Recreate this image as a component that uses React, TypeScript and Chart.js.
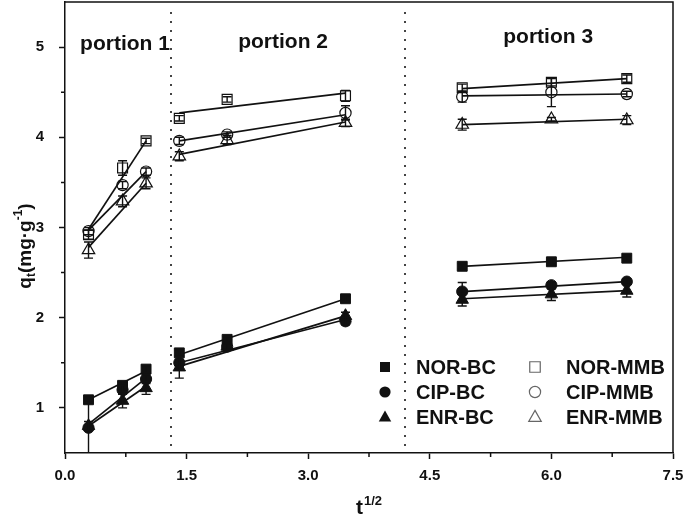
import React, { useEffect, useRef } from 'react';
import { Chart, registerables } from 'chart.js';

Chart.register(...registerables);

// x positions: square root of sampling time
const sqrtT = [0.29, 0.71, 1.0, 1.41, 2.0, 3.46, 4.9, 6.0, 6.93];

// adsorbed amounts q_t (mg/g)
const norBC = [1.09, 1.25, 1.43, 1.61, 1.76, 2.21, 2.57, 2.62, 2.66];
const cipBC = [0.78, 1.2, 1.32, 1.5, 1.68, 1.96, 2.29, 2.36, 2.4];
const enrBC = [0.8, 1.08, 1.22, 1.45, 1.68, 2.02, 2.2, 2.26, 2.3];
const norMMB = [2.92, 3.66, 3.96, 4.21, 4.42, 4.46, 4.55, 4.61, 4.65];
const cipMMB = [2.96, 3.47, 3.62, 3.96, 4.03, 4.27, 4.45, 4.5, 4.48];
const enrMMB = [2.75, 3.29, 3.49, 3.79, 3.97, 4.16, 4.14, 4.2, 4.19];

// error bars (+/-)
const norBCErr = [0.03, 0.04, 0.04, 0.03, 0.03, 0.03, 0.03, 0.03, 0.03];
const cipBCErr = [0.3, 0.05, 0.05, 0.04, 0.03, 0.04, 0.1, 0.04, 0.03];
const enrBCErr = [0.05, 0.08, 0.07, 0.12, 0.04, 0.04, 0.07, 0.07, 0.07];
const norMMBErr = [0.05, 0.08, 0.03, 0.03, 0.03, 0.06, 0.04, 0.04, 0.04];
const cipMMBErr = [0.04, 0.04, 0.04, 0.04, 0.03, 0.08, 0.06, 0.16, 0.03];
const enrMMBErr = [0.09, 0.06, 0.06, 0.05, 0.05, 0.04, 0.06, 0.02, 0.05];

// intra-particle diffusion fit lines: [start, end] per portion
const norBCFit = [[1.09, 1.41], [1.59, 2.21], [2.57, 2.67]];
const cipBCFit = [[0.82, 1.33], [1.5, 1.98], [2.29, 2.4]];
const enrBCFit = [[0.8, 1.24], [1.46, 2.02], [2.21, 2.3]];
const norMMBFit = [[2.98, 3.96], [4.27, 4.49], [4.54, 4.65]];
const cipMMBFit = [[2.97, 3.62], [3.96, 4.25], [4.46, 4.48]];
const enrMMBFit = [[2.78, 3.49], [3.81, 4.17], [4.14, 4.2]];

// index ranges of each portion
const portionRanges = [[0, 2], [3, 5], [6, 8]];
const portionLabels = ['portion 1', 'portion 2', 'portion 3'];
const portionLabelX = [0.74, 2.69, 5.96];
const portionLabelY = [4.97, 4.99, 5.04];
const dividers = [1.31, 4.2];

const xTicks = [0, 1.5, 3.0, 4.5, 6.0, 7.5];
const xMinor = [0.75, 2.25, 3.75, 5.25, 6.75];
const yTicks = [1, 2, 3, 4, 5];
const yMinor = [1.5, 2.5, 3.5, 4.5];

type Shape = 'rect' | 'circle' | 'triangle';
const series: { name: string; values: number[]; errs: number[]; fit: number[][]; shape: Shape; filled: boolean }[] = [
  { name: 'NOR-BC', values: norBC, errs: norBCErr, fit: norBCFit, shape: 'rect', filled: true },
  { name: 'CIP-BC', values: cipBC, errs: cipBCErr, fit: cipBCFit, shape: 'circle', filled: true },
  { name: 'ENR-BC', values: enrBC, errs: enrBCErr, fit: enrBCFit, shape: 'triangle', filled: true },
  { name: 'NOR-MMB', values: norMMB, errs: norMMBErr, fit: norMMBFit, shape: 'rect', filled: false },
  { name: 'CIP-MMB', values: cipMMB, errs: cipMMBErr, fit: cipMMBFit, shape: 'circle', filled: false },
  { name: 'ENR-MMB', values: enrMMB, errs: enrMMBErr, fit: enrMMBFit, shape: 'triangle', filled: false },
];

const FONT = '"Liberation Sans", Arial, sans-serif';
const INK = '#111';

function radiusFor(shape: Shape) {
  return shape === 'rect' ? 7 : shape === 'circle' ? 5.6 : 7.2;
}

function drawShape(ctx: CanvasRenderingContext2D, shape: Shape, cx: number, cy: number, filled: boolean) {
  ctx.beginPath();
  if (shape === 'rect') {
    const s = filled ? 10 : 10.5;
    ctx.rect(cx - s / 2, cy - s / 2, s, s);
  } else if (shape === 'circle') {
    ctx.arc(cx, cy, 5.6, 0, Math.PI * 2);
  } else {
    const h = 11;
    const w = 12.5;
    ctx.moveTo(cx, cy - h * 0.6);
    ctx.lineTo(cx + w / 2, cy + h * 0.4);
    ctx.lineTo(cx - w / 2, cy + h * 0.4);
    ctx.closePath();
  }
  if (filled) {
    ctx.fillStyle = INK;
    ctx.fill();
  } else {
    ctx.strokeStyle = '#666';
    ctx.lineWidth = 1.2;
    ctx.stroke();
  }
}

const extrasPlugin = {
  id: 'extras',
  beforeDatasetsDraw(chart: any) {
    const { ctx, chartArea, scales } = chart;
    const x = scales.x;
    ctx.save();
    ctx.strokeStyle = '#444';
    ctx.lineWidth = 2;
    ctx.setLineDash([2, 7]);
    dividers.forEach((d) => {
      const px = Math.round(x.getPixelForValue(d));
      ctx.beginPath();
      ctx.moveTo(px, chartArea.top + 10);
      ctx.lineTo(px, chartArea.bottom - 4);
      ctx.stroke();
    });
    ctx.restore();
  },
  afterDatasetsDraw(chart: any) {
    const { ctx, chartArea, scales } = chart;
    const x = scales.x;
    const y = scales.y;
    ctx.save();
    ctx.beginPath();
    ctx.rect(chartArea.left, chartArea.top, chartArea.right - chartArea.left, chartArea.bottom - chartArea.top);
    ctx.clip();
    ctx.strokeStyle = INK;
    ctx.lineWidth = 1.4;
    series.forEach((s) => {
      s.values.forEach((v, j) => {
        const px = x.getPixelForValue(sqrtT[j]);
        const top = y.getPixelForValue(v + s.errs[j]);
        const bot = y.getPixelForValue(v - s.errs[j]);
        ctx.beginPath();
        ctx.moveTo(px, top);
        ctx.lineTo(px, bot);
        ctx.moveTo(px - 4.5, top);
        ctx.lineTo(px + 4.5, top);
        ctx.moveTo(px - 4.5, bot);
        ctx.lineTo(px + 4.5, bot);
        ctx.stroke();
      });
    });
    ctx.restore();
  },
  afterDraw(chart: any) {
    const { ctx, chartArea, scales } = chart;
    const x = scales.x;
    const y = scales.y;
    const { left, right, top, bottom } = chartArea;
    ctx.save();
    // top and right frame
    ctx.strokeStyle = INK;
    ctx.lineWidth = 1.5;
    ctx.beginPath();
    ctx.moveTo(left, top);
    ctx.lineTo(right, top);
    ctx.lineTo(right, bottom);
    ctx.stroke();
    // minor ticks
    ctx.lineWidth = 1.5;
    ctx.beginPath();
    xMinor.forEach((v) => {
      const px = x.getPixelForValue(v);
      ctx.moveTo(px, bottom);
      ctx.lineTo(px, bottom + 4);
    });
    yMinor.forEach((v) => {
      const py = y.getPixelForValue(v);
      ctx.moveTo(left, py);
      ctx.lineTo(left - 4, py);
    });
    ctx.stroke();

    // portion labels
    ctx.fillStyle = INK;
    ctx.font = `bold 21px ${FONT}`;
    ctx.textAlign = 'center';
    ctx.textBaseline = 'alphabetic';
    portionLabels.forEach((t, i) => {
      ctx.fillText(t, x.getPixelForValue(portionLabelX[i]), y.getPixelForValue(portionLabelY[i]));
    });

    // legend
    const colMarker = [right - 288, right - 138];
    const colText = [right - 257, right - 107];
    const rows = [bottom - 86, bottom - 61, bottom - 36];
    ctx.font = `bold 20px ${FONT}`;
    ctx.textAlign = 'left';
    ctx.textBaseline = 'middle';
    series.forEach((s, i) => {
      const c = i < 3 ? 0 : 1;
      const r = i % 3;
      drawShape(ctx, s.shape, colMarker[c], rows[r], s.filled);
      ctx.fillStyle = INK;
      ctx.fillText(s.name, colText[c], rows[r] + 1);
    });

    // x axis title t^1/2
    ctx.textBaseline = 'alphabetic';
    ctx.textAlign = 'left';
    ctx.font = `bold 21px ${FONT}`;
    const tW = ctx.measureText('t').width;
    ctx.font = `bold 13px ${FONT}`;
    const supW = ctx.measureText('1/2').width;
    const cx = (left + right) / 2;
    const sx = cx - (tW + supW + 1) / 2;
    ctx.font = `bold 21px ${FONT}`;
    ctx.fillText('t', sx, 514);
    ctx.font = `bold 13px ${FONT}`;
    ctx.fillText('1/2', sx + tW + 1, 505);

    // y axis title q_t(mg·g^-1)
    ctx.save();
    ctx.translate(31, 246);
    ctx.rotate(-Math.PI / 2);
    const big = `bold 19px ${FONT}`;
    const small = `bold 12px ${FONT}`;
    const parts: [string, string, number][] = [
      ['q', big, 0],
      ['t', small, 4],
      ['(mg·g', big, 0],
      ['-1', small, -9],
      [')', big, 0],
    ];
    let total = 0;
    parts.forEach(([t, f]) => {
      ctx.font = f;
      total += ctx.measureText(t).width;
    });
    let px = -total / 2;
    parts.forEach(([t, f, dy]) => {
      ctx.font = f;
      ctx.fillText(t, px, dy);
      px += ctx.measureText(t).width;
    });
    ctx.restore();

    ctx.restore();
  },
};

export default function App() {
  const ref = useRef<HTMLCanvasElement>(null);
  useEffect(() => {
    document.body.style.margin = '0';
    const markerSets = series.map((s) => ({
      type: 'scatter' as const,
      label: s.name,
      data: s.values.map((v, j) => ({ x: sqrtT[j], y: v })),
      showLine: false,
      pointStyle: s.shape,
      pointRadius: radiusFor(s.shape),
      pointBackgroundColor: s.filled ? INK : 'rgba(0,0,0,0)',
      pointBorderColor: INK,
      pointBorderWidth: s.filled ? 1 : 1.2,
      order: 0,
    }));
    const lineSets: any[] = [];
    series.forEach((s) => {
      portionRanges.forEach(([a, b], p) => {
        lineSets.push({
          type: 'scatter' as const,
          label: `${s.name} fit ${p + 1}`,
          data: [
            { x: sqrtT[a], y: s.fit[p][0] },
            { x: sqrtT[b], y: s.fit[p][1] },
          ],
          showLine: true,
          borderColor: INK,
          borderWidth: 1.7,
          pointRadius: 0,
          order: 1,
        });
      });
    });

    const chart = new Chart(ref.current!, {
      type: 'scatter',
      data: { datasets: [...markerSets, ...lineSets] as any },
      options: {
        responsive: false,
        animation: false,
        devicePixelRatio: 1,
        layout: { autoPadding: false, padding: { left: 0, top: 2, right: 12, bottom: 0 } },
        plugins: { legend: { display: false }, tooltip: { enabled: false } },
        scales: {
          x: {
            type: 'linear',
            min: 0,
            max: 7.5,
            afterBuildTicks: (scale: any) => {
              scale.ticks = xTicks.map((v) => ({ value: v }));
            },
            afterFit: (scale: any) => {
              scale.height = 64;
              scale.paddingLeft = 0;
              scale.paddingRight = 0;
              scale.paddingTop = 0;
              scale.paddingBottom = 0;
            },
            ticks: {
              color: INK,
              font: { family: FONT, size: 15, weight: 'bold' },
              padding: 8,
              maxRotation: 0,
              callback: (v: any) => Number(v).toFixed(1),
            },
            grid: { drawOnChartArea: false, drawTicks: true, tickLength: 6, tickColor: INK, tickWidth: 1.5 },
            border: { display: true, color: INK, width: 1.5 },
          },
          y: {
            type: 'linear',
            min: 0.5,
            max: 5.5,
            afterBuildTicks: (scale: any) => {
              scale.ticks = yTicks.map((v) => ({ value: v }));
            },
            afterFit: (scale: any) => {
              scale.width = 65;
              scale.paddingLeft = 0;
              scale.paddingRight = 0;
              scale.paddingTop = 0;
              scale.paddingBottom = 0;
            },
            ticks: {
              color: INK,
              font: { family: FONT, size: 15, weight: 'bold' },
              padding: 15,
              callback: (v: any) => String(v),
            },
            grid: { drawOnChartArea: false, drawTicks: true, tickLength: 6, tickColor: INK, tickWidth: 1.5 },
            border: { display: true, color: INK, width: 1.5 },
          },
        },
      },
      plugins: [extrasPlugin],
    });
    return () => chart.destroy();
  }, []);
  return (
    <div style={{ width: 685, height: 517 }}>
      <canvas ref={ref} width={685} height={517} style={{ display: 'block' }} />
    </div>
  );
}
